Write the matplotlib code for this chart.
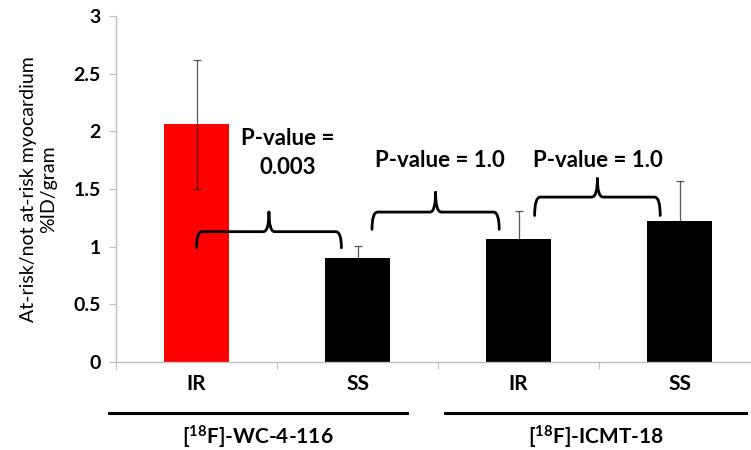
import matplotlib
matplotlib.use("Agg")
import matplotlib.pyplot as plt
from matplotlib.path import Path
from matplotlib.patches import PathPatch
from matplotlib.lines import Line2D

plt.rcParams['font.family'] = ['Lato', 'DejaVu Sans']
plt.rcParams['mathtext.fontset'] = 'custom'
plt.rcParams['mathtext.rm'] = 'Lato:bold'
plt.rcParams['mathtext.bf'] = 'Lato:bold'
plt.rcParams['mathtext.it'] = 'Lato:bold'

categories = ["IR", "SS", "IR", "SS"]
values = [2.06, 0.90, 1.07, 1.22]
errors = [0.56, 0.11, 0.24, 0.35]
colors = ["#ff0000", "#000000", "#000000", "#000000"]
groups = [r"[$^{18}$F]-WC-4-116", r"[$^{18}$F]-ICMT-18"]
yticks = [0, 0.5, 1, 1.5, 2, 2.5, 3]
ytick_labels = ["0", "0.5", "1", "1.5", "2", "2.5", "3"]
# brackets: (x_start, x_end, y_bottom, y_line, y_peak)
brackets = [(0.0, 0.90, 0.99, 1.13, 1.30),
            (1.09, 1.88, 1.15, 1.30, 1.47),
            (2.10, 2.88, 1.27, 1.43, 1.59)]
pvalue_texts = ["P-value =\n0.003", "P-value = 1.0", "P-value = 1.0"]
pvalue_pos = [(0.565, 1.81), (1.51, 1.75), (2.49, 1.75)]

fig = plt.figure(figsize=(7.51, 4.5), dpi=100)
ax = fig.add_axes([116/751, 88/450, (751-116)/751, 346/450])

x = list(range(len(categories)))
ax.bar(x, values, width=0.4, color=colors, zorder=2)
ax.errorbar(x, values, yerr=errors, fmt='none', ecolor='black', alpha=0.65,
            elinewidth=0.9, capsize=3, capthick=0.9, zorder=3)

ax.set_xlim(-0.5, 3.444)
ax.set_ylim(0, 3)
ax.set_yticks(yticks)
ax.set_yticklabels(ytick_labels, fontweight='bold', fontsize=14)
ax.set_xticks([-0.5, 0.5, 1.5, 2.5])
ax.set_xticklabels([])
ax.tick_params(axis='x', length=5, color='#bfbfbf', direction='out')
ax.tick_params(axis='y', length=5, color='#bfbfbf', direction='out', pad=6)
for s in ['top', 'right']:
    ax.spines[s].set_visible(False)
for s in ['left', 'bottom']:
    ax.spines[s].set_color('#bfbfbf')
    ax.spines[s].set_linewidth(1.0)

for xi, c in zip(x, categories):
    ax.text(xi, -0.195, c, ha='center', va='center', fontsize=15,
            fontweight='bold', transform=ax.transData, clip_on=False)

ax.set_ylabel("At-risk/not at-risk myocardium\n%ID/gram", fontsize=14,
              labelpad=12, linespacing=1.2)

def brace(x0, x1, yb, yl, yp):
    xc = (x0 + x1) / 2
    r = 0.035
    verts = [(x0, yb), (x0, yl), (x0 + r, yl),
             (xc - r, yl), (xc, yl), (xc, yp),
             (xc, yp), (xc, yl), (xc + r, yl),
             (x1 - r, yl), (x1, yl), (x1, yb)]
    codes = [Path.MOVETO, Path.CURVE3, Path.CURVE3,
             Path.LINETO, Path.CURVE3, Path.CURVE3,
             Path.MOVETO, Path.CURVE3, Path.CURVE3,
             Path.LINETO, Path.CURVE3, Path.CURVE3]
    p = PathPatch(Path(verts, codes), fill=False, lw=2, ec='black', zorder=4,
                  capstyle='round', joinstyle='round')
    ax.add_patch(p)

for b in brackets:
    brace(*b)

for t, (px, py) in zip(pvalue_texts, pvalue_pos):
    ax.text(px, py, t, ha='center', va='center', fontsize=16,
            fontweight='bold', linespacing=1.5)

# group lines and labels
line_spans = [(109/751, 407/751), (445/751, 746/751)]
for (a, b), g in zip(line_spans, groups):
    fig.add_artist(Line2D([a, b], [1 - 413/450, 1 - 413/450], color='black', lw=2.2))
    fig.text((a + b) / 2, 1 - 437/450, g, ha='center', va='center',
             fontsize=15, fontweight='bold')

fig.savefig("out.png", dpi=100)
